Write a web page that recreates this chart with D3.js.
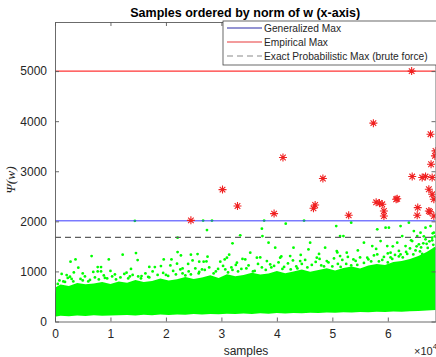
<!DOCTYPE html>
<html>
<head>
<meta charset="utf-8">
<script src="https://cdn.jsdelivr.net/npm/d3@7"></script>
<style>
  body { margin: 0; background: #fff; }
  svg { display: block; font-family: "Liberation Sans", Arial, sans-serif; }
</style>
</head>
<body>
<div id="chart"></div>
<script>
// values (x = sample index, y = psi(w))
const xTicks = [0, 10000, 20000, 30000, 40000, 50000, 60000];
const yTicks = [0, 1000, 2000, 3000, 4000, 5000];

const generalizedMax = 2010;
const empiricalMax = 5000;
const exactProbMax = 1680;

// dense green cloud: sampled upper / lower edges
const cloudX = [0, 200, 1000, 2500, 4000, 5500, 7000, 8500, 10000, 11500, 13000, 14500,
  16000, 17500, 19000, 20500, 22000, 23500, 25000, 26500, 28000, 29500, 31000, 32500,
  34000, 35500, 37000, 38500, 40000, 41500, 43000, 44500, 46000, 47500, 49000, 50500,
  52000, 53500, 55000, 56500, 58000, 59500, 61000, 62500, 64000, 65500, 67000, 68600];
const cloudTop = [540, 690, 740, 710, 770, 745, 760, 790, 750, 800, 775, 830,
  790, 810, 860, 820, 845, 890, 850, 880, 925, 870, 945, 905,
  930, 975, 940, 960, 1010, 965, 1000, 1040, 995, 1030, 1065, 1020,
  1070, 1100, 1060, 1120, 1150, 1130, 1190, 1210, 1250, 1310, 1390, 1500];
const cloudBottom = [110, 100, 115, 105, 120, 110, 125, 115, 120, 125, 130, 120,
  135, 125, 140, 130, 140, 135, 150, 140, 150, 145, 155, 150,
  160, 150, 165, 155, 170, 160, 170, 165, 175, 170, 180, 175,
  185, 180, 190, 185, 195, 190, 200, 195, 205, 210, 220, 230];

// scattered green samples above the cloud
const greenPts = [
  [14400, 2010], [26700, 2015], [28300, 2015], [27400, 1826], [22100, 1674], [33400, 1720],
  [32000, 1560], [2800, 1194], [3700, 1240], [6600, 1306], [9700, 1240], [12200, 1334],
  [14600, 1366], [14900, 1226], [4200, 1074], [7700, 1086], [8300, 1086], [7700, 1000],
  [8300, 1000], [2100, 926], [2700, 894], [5000, 960], [18000, 1086], [19100, 1106],
  [19600, 1240], [21000, 1240], [22100, 1386], [22700, 1320], [22000, 1154], [24500, 1334],
  [25700, 1346], [24800, 1220], [26000, 1194], [26800, 1194], [27500, 1294], [23000, 1060],
  [26500, 1040], [29800, 1194], [31000, 1274], [31400, 1334], [32800, 1174], [30700, 1040],
  [15600, 906], [12900, 974], [10800, 940],
  [37700, 2015], [41600, 1954], [44900, 2015], [50700, 1906], [53400, 1974], [37300, 1854],
  [37400, 1706], [51400, 1706], [52000, 1706], [58100, 1840], [59600, 1874], [60200, 1874],
  [62300, 1906], [63800, 1974], [64700, 1806], [65900, 1774], [66800, 1874], [67700, 1906],
  [68300, 1774], [62600, 1706], [65300, 1706], [38500, 1574], [39700, 1474], [43000, 1474],
  [46000, 1574], [45700, 1440], [48700, 1474], [50800, 1406], [52600, 1374], [55700, 1574],
  [57200, 1506], [58700, 1606], [59900, 1506], [61700, 1574], [63200, 1506], [64400, 1606],
  [65600, 1540], [66800, 1640], [68000, 1674], [34300, 1240], [35200, 1374], [36400, 1274],
  [38200, 1206], [40600, 1274], [42400, 1306], [44200, 1206], [47200, 1274], [49000, 1206],
  [51400, 1306], [53800, 1240], [56300, 1274], [58100, 1340], [60500, 1374], [62300, 1340],
  [1500, 800], [3000, 850], [5000, 820], [9000, 870], [11000, 840], [13500, 900],
  [17000, 880], [20000, 930], [23000, 960], [26000, 990], [29000, 1000], [32000, 1030],
  [34500, 1060], [36000, 1010], [39000, 1080], [41000, 1050], [43500, 1100], [45500, 1080],
  [48000, 1120], [50000, 1100], [52500, 1150], [54500, 1130], [57000, 1200], [59000, 1230],
  [60500, 1280], [62000, 1300], [63500, 1350], [65000, 1420], [66000, 1480], [67000, 1550],
  [68000, 1620], [68400, 1450], [67800, 1380], [66200, 1350], [500, 750], [6000, 800],
  [15500, 860], [24500, 940], [33000, 1000], [42500, 1040], [51500, 1090], [60000, 1180],
  [800, 820], [1800, 790], [2300, 870], [3300, 800], [4600, 850], [5400, 900],
  [6300, 830], [7200, 880], [7900, 840], [8800, 920], [9400, 860], [10300, 900],
  [11800, 880], [12500, 950], [13200, 860], [14000, 930], [15000, 900], [16300, 960],
  [16800, 890], [17600, 1000], [18500, 930], [19500, 970], [20400, 910], [21300, 1010],
  [21800, 940], [22600, 1040], [23500, 920], [24100, 1000], [25300, 1060], [25900, 960],
  [27000, 1030], [27800, 1080], [28600, 960], [29400, 1050], [30300, 1110], [31200, 980],
  [31800, 1080], [32600, 1130], [33600, 1050], [34900, 1120], [35700, 1000], [36600, 1150],
  [37300, 1080], [38000, 1030], [38800, 1140], [39500, 1110], [40300, 1180], [41300, 1090],
  [42000, 1160], [42900, 1220], [43700, 1060], [44500, 1150], [45100, 1230], [46300, 1130],
  [47000, 1190], [47700, 1250], [48500, 1100], [49300, 1180], [50300, 1260], [51000, 1150],
  [51800, 1230], [52800, 1290], [53400, 1120], [54200, 1210], [55000, 1280], [55700, 1170],
  [56500, 1240], [57500, 1320], [58400, 1200], [59300, 1290], [60000, 1360], [60800, 1250],
  [61300, 1330], [62000, 1410], [62700, 1280], [63300, 1390], [64000, 1460], [64600, 1340],
  [65200, 1500], [65800, 1400], [66400, 1560], [67200, 1470], [67500, 1600], [68200, 1530],
  [68500, 1700], [68100, 1760], [66500, 1700], [64200, 1620], [60900, 1500], [57900, 1450],
  [54600, 1420], [50900, 1380], [47600, 1350], [44300, 1330], [40800, 1300], [37000, 1280],
  [33800, 1250], [30600, 1240], [27300, 1200], [24000, 1150], [20800, 1120], [17000, 1090],
  [13700, 1050], [10000, 1010], [6900, 990], [3400, 980], [1200, 950]
];

// red star samples
const redPts = [
  [24500, 2020], [30200, 2634], [32900, 2306], [39500, 2154], [41100, 3274], [46600, 2260],
  [46900, 2326], [48300, 2854], [52950, 2120], [57400, 3960], [57900, 2380], [58500, 2366],
  [59000, 2340], [59300, 2206], [59300, 2106], [61500, 2440], [61700, 2450], [64300, 5000],
  [64400, 2894], [65400, 2274], [65300, 2120], [66200, 2874], [66800, 2894], [67700, 3740],
  [67800, 3140], [68000, 2874], [67400, 2640], [68000, 2540], [68300, 2440], [67400, 2206],
  [67600, 2190], [68300, 2106], [68600, 3406], [68500, 3306]
];

const W = 436, H = 357;
const L = 55, R = 435.5, T = 22, B = 321.5;

const svg = d3.select("#chart").append("svg")
  .attr("width", W).attr("height", H);

const x = d3.scaleLinear().domain([0, 68600]).range([L, R]);
const y = d3.scaleLinear().domain([0, 5980]).range([B, T]);

svg.append("defs").append("clipPath").attr("id", "plotclip")
  .append("rect").attr("x", L).attr("y", T).attr("width", R - L).attr("height", B - T);

const plot = svg.append("g").attr("clip-path", "url(#plotclip)");

// green cloud
const cloud = cloudX.map((d, i) => ({ x: d, top: cloudTop[i], bottom: cloudBottom[i] }));
plot.append("path")
  .datum(cloud)
  .attr("fill", "#00ff00")
  .attr("d", d3.area().x(d => x(d.x)).y0(d => y(d.bottom)).y1(d => y(d.top)));

plot.selectAll(".gpt")
  .data(greenPts)
  .join("circle")
  .attr("class", "gpt")
  .attr("cx", d => x(d[0]))
  .attr("cy", d => y(d[1]))
  .attr("r", 1.4)
  .attr("fill", "#00ff00");

// reference lines
plot.append("line")
  .attr("x1", L).attr("x2", R)
  .attr("y1", y(generalizedMax)).attr("y2", y(generalizedMax))
  .attr("stroke", "#3a3aff").attr("stroke-width", 1);
plot.append("line")
  .attr("x1", L).attr("x2", R)
  .attr("y1", y(empiricalMax)).attr("y2", y(empiricalMax))
  .attr("stroke", "#ff3535").attr("stroke-width", 1.4);
plot.append("line")
  .attr("x1", L).attr("x2", R)
  .attr("y1", y(exactProbMax)).attr("y2", y(exactProbMax))
  .attr("stroke", "#5e5e5e").attr("stroke-width", 1.2)
  .attr("stroke-dasharray", "6,4");

// red stars
const star = "M-4,0L4,0M0,-4L0,4M-2.8,-2.8L2.8,2.8M-2.8,2.8L2.8,-2.8";
plot.selectAll(".star")
  .data(redPts)
  .join("path")
  .attr("class", "star")
  .attr("transform", d => `translate(${x(d[0])},${y(d[1])})`)
  .attr("d", star)
  .attr("fill", "none")
  .attr("stroke", "#f02020")
  .attr("stroke-width", 1.1);

// axes (MATLAB style: inward ticks, box)
function styleAxis(g) {
  g.selectAll("path.domain").attr("stroke", "#5a5a5a").attr("stroke-width", 0.9);
  g.selectAll(".tick line").attr("stroke", "#5a5a5a").attr("stroke-width", 0.9);
  g.selectAll("text").attr("fill", "#262626").style("font-size", "12px")
    .style("font-family", '"Liberation Sans", Arial, sans-serif');
}

svg.append("g")
  .attr("transform", `translate(0,${B})`)
  .call(d3.axisBottom(x).tickValues(xTicks).tickSizeInner(-4).tickSizeOuter(0)
    .tickPadding(8).tickFormat(d => d / 10000))
  .call(styleAxis);
svg.append("g")
  .attr("transform", `translate(0,${T})`)
  .call(d3.axisTop(x).tickValues(xTicks).tickSizeInner(-4).tickSizeOuter(0).tickFormat(""))
  .call(styleAxis);
svg.append("g")
  .attr("transform", `translate(${L},0)`)
  .call(d3.axisLeft(y).tickValues(yTicks).tickSizeInner(-4).tickSizeOuter(0)
    .tickPadding(8).tickFormat(d3.format("d")))
  .call(styleAxis);
svg.append("g")
  .attr("transform", `translate(${R},0)`)
  .call(d3.axisRight(y).tickValues(yTicks).tickSizeInner(-4).tickSizeOuter(0).tickFormat(""))
  .call(styleAxis);

// title and labels
svg.append("text")
  .attr("x", (L + R) / 2).attr("y", 17)
  .attr("text-anchor", "middle")
  .style("font-size", "12.5px").style("font-weight", "bold")
  .attr("fill", "#000")
  .text("Samples ordered by norm of w (x-axis)");

svg.append("text")
  .attr("x", 246).attr("y", 355)
  .attr("text-anchor", "middle")
  .style("font-size", "12px").attr("fill", "#262626")
  .text("samples");

const exp = svg.append("text")
  .attr("x", 414).attr("y", 355)
  .style("font-size", "11px").attr("fill", "#262626");
exp.append("tspan").text("\u00d710");
exp.append("tspan").attr("dy", -6).style("font-size", "8px").text("4");

svg.append("text")
  .attr("transform", "translate(15,180) rotate(-90)")
  .attr("text-anchor", "middle")
  .style("font-family", '"Liberation Serif", "DejaVu Serif", serif')
  .style("font-style", "italic")
  .style("font-size", "13.5px").attr("fill", "#262626")
  .text("\u03a8(w)");

// legend
const legendItems = [
  { label: "Generalized Max", color: "#2a2aa8", dash: null },
  { label: "Empirical Max", color: "#e8383a", dash: null },
  { label: "Exact Probabilistic Max (brute force)", color: "#8a8a8a", dash: "6,4" }
];
const lg = svg.append("g");
lg.append("rect")
  .attr("x", 223).attr("y", 21).attr("width", 220).attr("height", 44)
  .attr("fill", "#fff").attr("stroke", "#444").attr("stroke-width", 0.8);
legendItems.forEach((d, i) => {
  const cy = 28 + i * 14;
  lg.append("line")
    .attr("x1", 227).attr("x2", 262).attr("y1", cy).attr("y2", cy)
    .attr("stroke", d.color).attr("stroke-width", 1.1)
    .attr("stroke-dasharray", d.dash);
  lg.append("text")
    .attr("x", 264).attr("y", cy).attr("dy", "0.35em")
    .style("font-size", "10.2px").attr("fill", "#262626")
    .text(d.label);
});
</script>
</body>
</html>
